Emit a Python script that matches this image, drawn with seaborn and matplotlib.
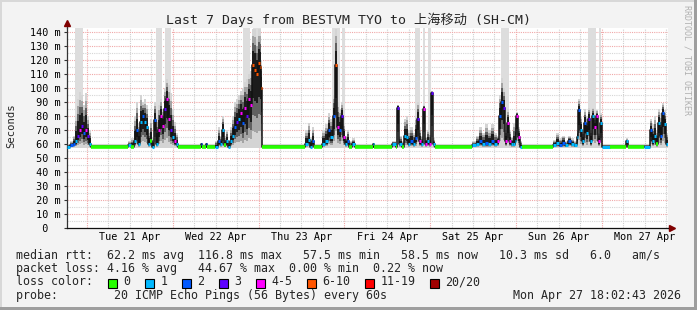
import numpy as np
import pandas as pd
import matplotlib
matplotlib.use("Agg")
import matplotlib.pyplot as plt
from matplotlib.patches import Rectangle
import seaborn as sns

# ---------------- data ----------------
title = "Last 7 Days from BESTVM TYO to 上海移动 (SH-CM)"
start_hour = 18.4          # Mon 20 Apr 18:24 (hours since Mon 20 Apr 00:00)
step_hours = 0.2796        # one RRD row (~16.8 min)
span_hours = 168.0
min_rtt = 57.5

# RRD row index, median rtt (ms), upper smoke edge (ms), loss class index
sample_idx = [0, 3, 6, 8, 10, 12, 14, 16, 18, 20, 22, 24,
              61, 64, 67, 69, 71, 73, 75, 77, 79, 81, 83, 85, 87, 89, 91, 93, 95, 97, 99, 101,
              103, 105, 107, 109, 111,
              134, 135, 139, 140,
              148, 151, 153, 155, 157, 159, 161, 163, 165, 167, 169, 171, 173, 175, 177, 179,
              181, 183, 185, 187, 189, 191, 193, 194, 195,
              238, 241, 243, 245, 247, 255, 258, 261, 263, 266, 268, 270, 272, 274, 276, 278,
              280, 282, 285, 288,
              306, 307,
              325, 329, 330, 332, 335, 337, 339, 341, 343, 346, 348, 350, 352, 354, 356, 358,
              360, 362, 364, 366, 368,
              405, 409, 412, 415, 418, 421, 424, 427, 430, 432, 434, 436, 438, 440, 442, 444,
              446, 448, 449, 451, 453, 455,
              486, 489, 492, 495, 498, 501, 504, 507, 510, 511, 513, 515, 517, 519, 521, 523,
              525, 527, 529, 531, 533, 535, 543,
              559, 561, 577, 583, 585, 587, 589, 591, 593, 595, 597, 599]
median_ms = [58, 59, 60, 62, 66, 70, 73, 68, 70, 66, 60, 58,
             59, 58, 62, 70, 60, 76, 80, 76, 72, 60, 62, 58, 77, 60, 70, 80, 73, 85, 92, 78,
             70, 65, 62, 60, 58,
             60, 58, 60, 58,
             58, 62, 60, 70, 59, 62, 58, 62, 66, 72, 76, 78, 82, 75, 86, 80,
             92, 88, 116, 113, 110, 118, 115, 100, 58,
             60, 63, 58, 62, 58, 60, 62, 70, 65, 80, 116, 72, 70, 80, 65, 60,
             62, 58, 60, 58,
             60, 58,
             60, 58, 86, 60, 58, 66, 65, 60, 62, 60, 64, 78, 62, 60, 85, 60,
             62, 60, 96, 60, 58,
             59, 60, 62, 60, 61, 60, 62, 60, 62, 80, 90, 86, 62, 75, 62, 60,
             60, 62, 80, 65, 58, 58,
             59, 61, 59, 61, 59, 62, 60, 59, 65, 84, 70, 62, 75, 68, 78, 62,
             80, 72, 80, 62, 75, 58, 58,
             62, 58, 58, 70, 62, 66, 60, 75, 66, 82, 74, 60]
smoke_hi_ms = [60, 62, 66, 80, 92, 97, 95, 88, 96, 80, 70, 60,
               62, 64, 80, 90, 75, 95, 90, 92, 88, 70, 78, 64, 90, 80, 88, 92, 85, 100, 106, 102,
               96, 85, 76, 68, 60,
               61, 60, 61, 60,
               62, 72, 66, 80, 66, 70, 62, 72, 80, 90, 92, 95, 98, 100, 104, 106,
               110, 112, 142, 142, 135, 142, 142, 120, 60,
               70, 75, 65, 72, 60, 70, 74, 82, 78, 95, 142, 90, 85, 90, 75, 66,
               70, 62, 64, 60,
               61, 60,
               62, 60, 88, 66, 62, 78, 80, 70, 72, 68, 80, 90, 72, 66, 88, 65,
               70, 68, 98, 64, 60,
               62, 66, 72, 68, 74, 70, 74, 68, 66, 95, 107, 100, 72, 85, 70, 65,
               75, 78, 83, 72, 62, 60,
               63, 68, 64, 66, 62, 66, 64, 62, 70, 92, 80, 70, 85, 80, 86, 72,
               86, 80, 84, 68, 82, 60, 60,
               64, 60, 60, 78, 74, 80, 70, 85, 82, 89, 84, 68]
loss_class = [1, 2, 2, 1, 3, 4, 3, 2, 4, 3, 1, 0,
              1, 0, 1, 2, 1, 1, 2, 1, 1, 1, 0, 1, 2, 1, 4, 4, 4, 3, 4, 4,
              3, 1, 4, 1, 0,
              2, 0, 2, 0,
              1, 2, 1, 1, 0, 1, 1, 1, 1, 2, 3, 1, 4, 2, 4, 3,
              4, 4, 5, 5, 5, 5, 5, 5, 0,
              1, 1, 1, 2, 0, 1, 1, 2, 1, 2, 5, 4, 2, 3, 4, 1,
              2, 0, 1, 0,
              1, 0,
              1, 0, 3, 1, 0, 1, 1, 1, 2, 1, 2, 3, 4, 1, 4, 4,
              1, 4, 3, 1, 0,
              1, 1, 2, 1, 2, 1, 2, 1, 4, 2, 2, 3, 4, 4, 4, 1,
              1, 1, 4, 4, 1, 0,
              1, 1, 2, 2, 1, 2, 1, 1, 1, 2, 1, 1, 2, 1, 3, 1,
              1, 4, 4, 4, 1, 1, 0,
              1, 0, 1, 2, 1, 1, 0, 1, 2, 2, 1, 1]
# rows where the upper smoke is off the chart (grey full-height bands): start, end row
gap_start_idx = [8, 89, 98, 176, 186, 265, 275, 348, 356, 361, 434, 521, 532]
gap_end_idx = [16, 95, 104, 183, 194, 273, 278, 353, 358, 364, 442, 529, 534]

loss_labels = ["0", "1", "2", "3", "4-5", "6-10", "11-19", "20/20"]
loss_colors = ["#26ff00", "#00b8ff", "#0059ff", "#5e00ff", "#ff00ff", "#ff5500", "#ff0000", "#a10000"]

day_labels = ["Tue 21 Apr", "Wed 22 Apr", "Thu 23 Apr", "Fri 24 Apr",
              "Sat 25 Apr", "Sun 26 Apr", "Mon 27 Apr"]
y_ticks = [0, 10, 20, 30, 40, 50, 60, 70, 80, 90, 100, 110, 120, 130, 140]

stats_rtt = "median rtt:  62.2 ms avg  116.8 ms max   57.5 ms min   58.5 ms now   10.3 ms sd   6.0   am/s"
stats_loss = "packet loss: 4.16 % avg   44.67 % max  0.00 % min  0.22 % now"
probe_text = "probe:        20 ICMP Echo Pings (56 Bytes) every 60s"
stamp_text = "Mon Apr 27 18:02:43 2026"
side_text = "RRDTOOL / TOBI OETIKER"

# ---------------- build ----------------
df = pd.DataFrame({"idx": sample_idx, "median": median_ms, "hi": smoke_hi_ms, "loss": loss_class})
df["hour"] = start_hour + df["idx"] * step_hours
end_hour = start_hour + span_hours
t_next = list(df["hour"].iloc[1:]) + [end_hour]
df["hour_end"] = t_next

sns.set_theme(style="white")
plt.rcParams["font.family"] = ["DejaVu Sans Mono", "Noto Sans CJK SC"]

W, H, DPI = 697, 310, 100
fig = plt.figure(figsize=(W / DPI, H / DPI), dpi=DPI, facecolor="#f3f3f3")
L, R, T, B = 67, 667.5, 28, 228.3
ax = fig.add_axes([L / W, 1 - B / H, (R - L) / W, (B - T) / H])
ax.set_facecolor("white")
ymax = (B - T) / ((B - 31.7) / 140.0)
ax.set_xlim(start_hour, end_hour)
ax.set_ylim(0, ymax)

# grid
for h in np.arange(6, end_hour, 6):
    if h <= start_hour:
        continue
    major = (h % 24 == 0)
    ax.axvline(h, color="#f0a8a8" if major else "#cfcfcf", lw=0.8,
               ls=(0, (1, 1)), zorder=0.5)
for v in np.arange(5, 145, 5):
    major = (v % 10 == 0)
    ax.axhline(v, color="#f0a8a8" if major else "#d6d6d6", lw=0.8,
               ls=(0, (1, 1)), zorder=0.5)

# grey full-height bands
for s, e in zip(gap_start_idx, gap_end_idx):
    ax.fill_between([start_hour + s * step_hours, start_hour + e * step_hours], 58, ymax,
                    color="#dddddd", lw=0, zorder=1)

# smoke layers
xs = list(df["hour"]) + [end_hour]
med = np.array(list(df["median"]) + [df["median"].iloc[-1]], float)
hi = np.array(list(df["hi"]) + [df["hi"].iloc[-1]], float)
lo = np.full_like(med, min_rtt)
for frac, col in [(1.0, "#d4d4d4"), (0.8, "#a4a4a4"), (0.6, "#606060"), (0.4, "#1c1c1c")]:
    ax.fill_between(xs, med - (med - lo) * frac, med + (hi - med) * frac,
                    step="post", color=col, lw=0, zorder=2)

# median line (black connecting steps) + loss coloured segments
sns.lineplot(x=xs, y=med, drawstyle="steps-post", color="#111111", lw=1.1, ax=ax,
             zorder=3, legend=False)
for _, r in df.iterrows():
    k = int(r["loss"])
    ax.plot([r["hour"], r["hour_end"]], [r["median"], r["median"]], color=loss_colors[k],
            lw=2.6 if k == 0 else 2.2, solid_capstyle="butt", zorder=4)

# axes styling
for sp in ["top", "right"]:
    ax.spines[sp].set_visible(False)
ax.spines["left"].set_color("#333333")
ax.spines["bottom"].set_color("#111111")
ax.spines["left"].set_linewidth(0.9)
ax.spines["bottom"].set_linewidth(0.9)
ax.plot([0, 0], [1.0, 1.02], transform=ax.transAxes, color="#333333", lw=0.9, clip_on=False)
ax.plot([0], [1.025], marker="^", color="#800000", ms=4, transform=ax.transAxes, clip_on=False)
ax.plot([1.0, 1.004], [0, 0], transform=ax.transAxes, color="#111111", lw=0.9, clip_on=False)
ax.plot([1.007], [0], marker=">", color="#800000", ms=4, transform=ax.transAxes, clip_on=False)

ax.set_yticks(y_ticks)
ax.set_yticklabels([("%3d m" % v) if v else "  0  " for v in y_ticks], ha="left")
ax.tick_params(axis="y", length=2, width=0.8, color="#333333", pad=24.6,
               labelsize=7.3, labelcolor="black", left=True)
noon = [36 + 24 * i for i in range(7)]
ax.set_xticks(noon)
ax.set_xticklabels(day_labels)
ax.tick_params(axis="x", length=0, pad=3.0, labelsize=7.3, labelcolor="black")
ax.set_xlabel("")
ax.set_ylabel("")

# texts
def fy(y):
    return 1 - y / H

fig.text(348 / W, fy(20), title, ha="center", va="center", fontsize=9.5)
fig.text(11 / W, fy(126), "Seconds", rotation=90, ha="center", va="center", fontsize=7.6)
fig.text(687 / W, fy(60), side_text, rotation=270, ha="center", va="center",
         fontsize=6.0, color="#b0b0b0")
fs = 8.37
fig.text(16 / W, fy(255), stats_rtt, ha="left", va="center", fontsize=fs)
fig.text(16 / W, fy(268.3), stats_loss, ha="left", va="center", fontsize=fs)
fig.text(16 / W, fy(281.7), "loss color:", ha="left", va="center", fontsize=fs)
box_x = [108, 145.4, 182, 219, 256.4, 307, 365.4, 430.4]
for bx, lab, col in zip(box_x, loss_labels, loss_colors):
    fig.patches.append(Rectangle((bx / W, fy(287.5)), 8.5 / W, 8.5 / H, transform=fig.transFigure,
                                 facecolor=col, edgecolor="black", lw=0.8))
    fig.text((bx + 14.9) / W, fy(281.7), lab, ha="left", va="center", fontsize=fs)
fig.text(16 / W, fy(295), probe_text, ha="left", va="center", fontsize=fs)
fig.text(681 / W, fy(295), stamp_text, ha="right", va="center", fontsize=fs)

# frame shading
fig.patches.append(Rectangle((0, 0), 2 / W, 1, transform=fig.transFigure, color="#d8d8d8", lw=0))
fig.patches.append(Rectangle((0, 1 - 2 / H), 1, 2 / H, transform=fig.transFigure, color="#d8d8d8", lw=0))
fig.patches.append(Rectangle((1 - 3 / W, 0), 3 / W, 1, transform=fig.transFigure, color="#9e9e9e", lw=0))
fig.patches.append(Rectangle((0, 0), 1, 3 / H, transform=fig.transFigure, color="#9e9e9e", lw=0))

fig.savefig("out.png", dpi=DPI, facecolor=fig.get_facecolor())
